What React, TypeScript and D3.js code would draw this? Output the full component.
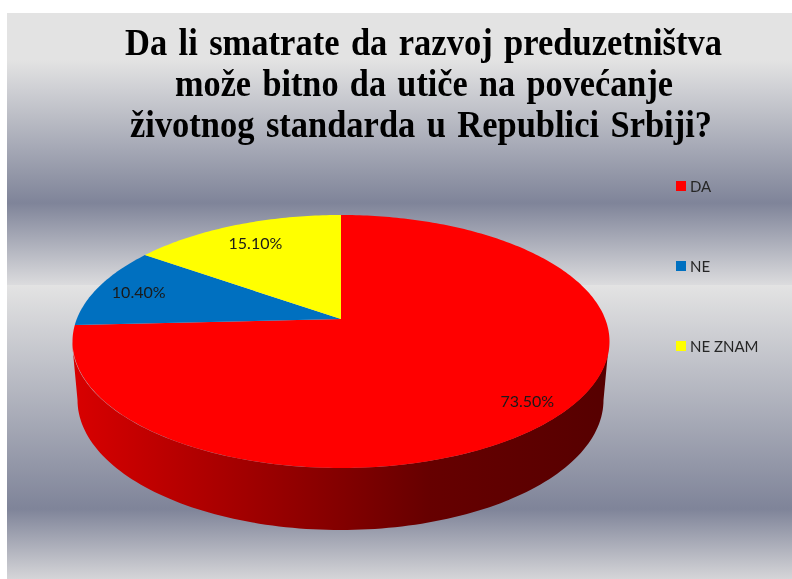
import React from "react";
import * as d3 from "d3";

const categories = ["DA", "NE", "NE ZNAM"];
const values = [73.5, 10.4, 15.1];
const valueLabels = ["73.50%", "10.40%", "15.10%"];
const colors = ["#ff0000", "#0070c0", "#ffff00"];
const titleLines = [
  "Da li smatrate da razvoj preduzetništva",
  "može bitno da utiče na povećanje",
  "životnog standarda u Republici Srbiji?",
];

const W = 792, H = 579;
const BG = { x: 7, y: 13 };
const apex = { x: 341, y: 319 };
const top = 215, bottom = 468, rimRx = 268.5;
// Perspective tilt: maps the unit disc to an ellipse whose centre is not the apex
const c = (top - apex.y + bottom - apex.y) / (bottom - top);
const a = top * (1 + c) - apex.y;
const K = rimRx * Math.sqrt(1 - c * c);
const project = (theta: number, r = 1): [number, number] => {
  const u = Math.sin(theta) * r, v = Math.cos(theta) * r, den = 1 + c * v;
  return [apex.x + (K * u) / den, (a * v + apex.y) / den];
};

const rim = { cx: 340.5, cy: (top + bottom) / 2, rx: rimRx, ry: (bottom - top) / 2 };
const base = { cx: 340.5, cy: 400, rx: 263, ry: 130 };

const pieGen = d3.pie<number>().sort(null).value((d) => d);
const arcs = pieGen(values);
const line = d3.line();

const slicePath = (s: number, e: number) => {
  const n = Math.max(8, Math.ceil((e - s) * 60));
  const pts = d3.range(n + 1).map((i) => project(s + ((e - s) * i) / n));
  return line([[apex.x, apex.y], ...pts])! + "Z";
};

const wallPath = (() => {
  const t = d3.range(0, 121).map((i) => (Math.PI * i) / 120);
  const lower = t.map((q): [number, number] => [base.cx + base.rx * Math.cos(q), base.cy + base.ry * Math.sin(q)]);
  const upper = t.slice().reverse().map((q): [number, number] => [rim.cx + rim.rx * Math.cos(q), rim.cy + rim.ry * Math.sin(q)]);
  return line([...lower, ...upper])! + "Z";
})();

const labelR = [0.87, 0.83, 0.79];
const bgStops: [number, string][] = [
  [13, "#e3e3e3"], [60, "#e3e3e3"], [203, "#7f8499"], [285.5, "#dcdcde"],
  [285.5, "#e3e3e3"], [509, "#7f8499"], [579, "#d5d5d8"],
];
const yPct = d3.scaleLinear().domain([13, 579]).range([0, 100]);
const wallStops: [number, string][] = [[72, "#d90000"], [430, "#660000"], [609, "#560000"]];
const xPct = d3.scaleLinear().domain([72, 609]).range([0, 100]);

const titleStart = [125, 175, 130];
const titleLength = [597, 498, 582];
const titleY = d3.scalePoint<number>().domain([0, 1, 2]).range([55, 137]);
const legendY = d3.scalePoint<string>().domain(categories).range([186, 346]);

export default function App() {
  return (
    <svg width={W} height={H} viewBox={`0 0 ${W} ${H}`} style={{ position: "absolute", left: 0, top: 0, display: "block" }}>
      <defs>
        <linearGradient id="bg" x1="0" y1="0" x2="0" y2="1">
          {bgStops.map(([y, col], i) => <stop key={i} offset={`${yPct(y)}%`} stopColor={col} />)}
        </linearGradient>
        <linearGradient id="wall" gradientUnits="userSpaceOnUse" x1={72} y1={0} x2={609} y2={0}>
          {wallStops.map(([x, col], i) => <stop key={i} offset={`${xPct(x)}%`} stopColor={col} />)}
        </linearGradient>
        <filter id="soft" x="-5%" y="-20%" width="110%" height="140%">
          <feGaussianBlur stdDeviation="0.35" />
        </filter>
      </defs>
      <rect x={0} y={0} width={W} height={H} fill="#fff" />
      <rect x={BG.x} y={BG.y} width={W - BG.x} height={H - BG.y} fill="url(#bg)" />
      <g fontFamily="'Liberation Serif', serif" fontWeight="bold" fontSize={37} fill="#000" filter="url(#soft)" style={{ wordSpacing: 3 }}>
        {titleLines.map((t, i) => (
          <text key={i} x={titleStart[i]} y={titleY(i)} textLength={titleLength[i]} lengthAdjust="spacingAndGlyphs">{t}</text>
        ))}
      </g>
      <path d={wallPath} fill="url(#wall)" />
      {arcs.map((d, i) => <path key={i} d={slicePath(d.startAngle, d.endAngle)} fill={colors[i]} />)}
      <g fontFamily="Lato, sans-serif" fontSize={16} fill="#1a1a1a" textAnchor="middle" filter="url(#soft)">
        {arcs.map((d, i) => {
          const [x, y] = project((d.startAngle + d.endAngle) / 2, labelR[i]);
          return <text key={i} x={x} y={y + 6}>{valueLabels[i]}</text>;
        })}
      </g>
      <g fontFamily="Lato, sans-serif" fontSize={15} fill="#262626">
        {categories.map((cat, i) => (
          <g key={cat}>
            <rect x={676} y={legendY(cat)! - 5} width={10} height={10} fill={colors[i]} />
            <text x={690} y={legendY(cat)! + 5.5} filter="url(#soft)">{cat}</text>
          </g>
        ))}
      </g>
    </svg>
  );
}
